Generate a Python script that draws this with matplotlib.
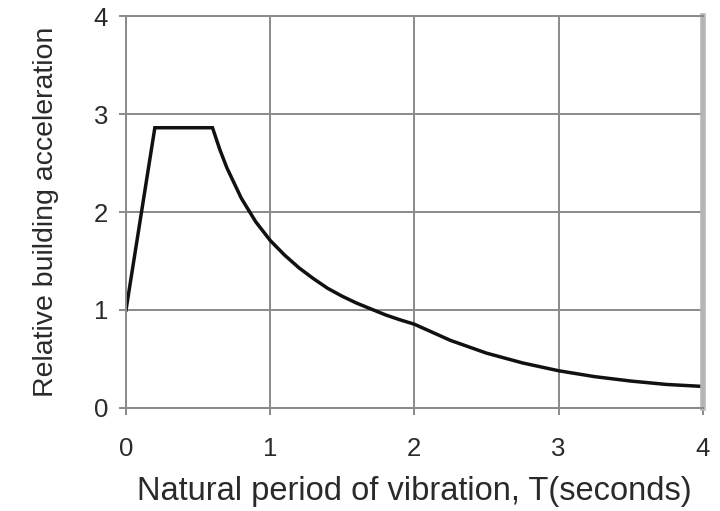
import matplotlib
matplotlib.use("Agg")
import matplotlib.pyplot as plt

# period (s) and relative acceleration
period = [0.0, 0.2, 0.6, 0.65, 0.7, 0.8, 0.9, 1.0, 1.1, 1.2, 1.3, 1.4, 1.5,
          1.6, 1.7, 1.8, 1.9, 2.0, 2.25, 2.5, 2.75, 3.0, 3.25, 3.5, 3.75, 4.0]
accel = [1.0, 2.86, 2.86, 2.64, 2.45, 2.14, 1.90, 1.71, 1.56, 1.43, 1.32,
         1.22, 1.14, 1.07, 1.01, 0.95, 0.90, 0.855, 0.69, 0.56, 0.46, 0.38,
         0.32, 0.275, 0.24, 0.22]
ticks = [0, 1, 2, 3, 4]

plt.rcParams['font.family'] = ['Liberation Sans', 'DejaVu Sans']

fig = plt.figure(figsize=(7.2, 5.11), dpi=100)
ax = fig.add_axes([0.175, 0.2016, 0.801, 0.767])

ax.plot(period, accel, color='#111111', linewidth=2.5, solid_joinstyle='miter')

ax.set_xlim(0, 4)
ax.set_ylim(0, 4)
ax.set_xticks(ticks)
ax.set_yticks(ticks)
ax.grid(True, color='#8a8a8a', linewidth=1.4)
ax.set_axisbelow(True)

for s in ['top', 'left', 'bottom']:
    ax.spines[s].set_color('#8a8a8a')
    ax.spines[s].set_linewidth(1.4)
ax.spines['right'].set_color('#b5b5b5')
ax.spines['right'].set_linewidth(4)

ax.tick_params(colors='#8a8a8a', length=5, width=1.4, labelcolor='#2a2a2a',
               labelsize=18.5)
ax.tick_params(axis='x', pad=16)
ax.tick_params(axis='y', pad=8)

ax.set_xlabel("Natural period of vibration, T(seconds)", fontsize=23.5,
              color='#2a2a2a', labelpad=11)
ax.set_ylabel("Relative building acceleration", fontsize=20.5,
              color='#2a2a2a', labelpad=25)

fig.savefig("out.png", dpi=100)
